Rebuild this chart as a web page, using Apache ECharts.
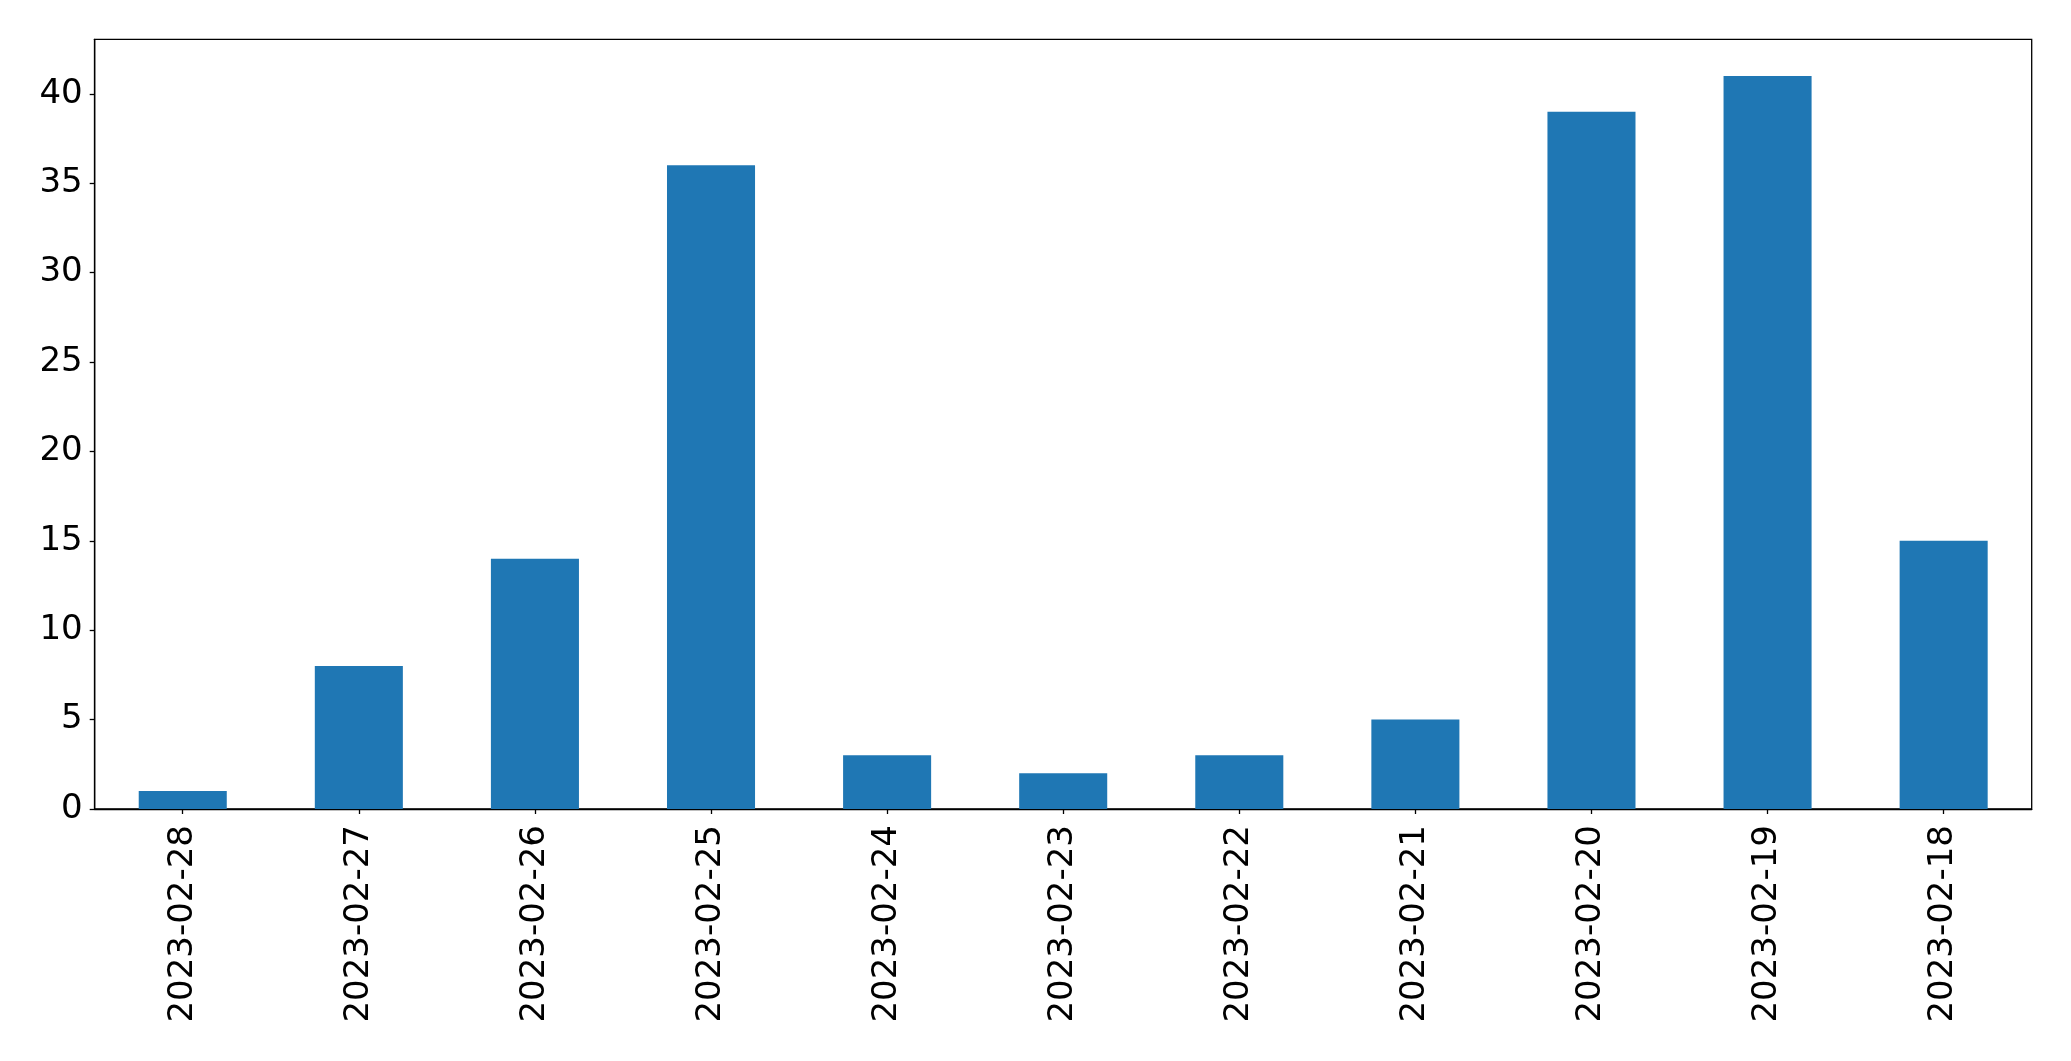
<!DOCTYPE html>
<html>
<head>
<meta charset="utf-8">
<script src="https://cdn.jsdelivr.net/npm/echarts@6/dist/echarts.min.js"></script>
<style>
html,body{margin:0;padding:0;background:#fff;}
#chart{width:2071px;height:1061px;}
</style>
</head>
<body>
<div id="chart"></div>
<script>
const categories = ['2023-02-28','2023-02-27','2023-02-26','2023-02-25','2023-02-24','2023-02-23','2023-02-22','2023-02-21','2023-02-20','2023-02-19','2023-02-18'];
const counts = [1, 8, 14, 36, 3, 2, 3, 5, 39, 41, 15];
const yTicks = [0, 5, 10, 15, 20, 25, 30, 35, 40];

const chart = echarts.init(document.getElementById('chart'), null, {renderer: 'canvas'});
const font = 'DejaVu Sans';
chart.setOption({
  animation: false,
  backgroundColor: '#ffffff',
  grid: {left: 94.7, right: 39.3, top: 39.3, bottom: 252, show: true, borderColor: '#000', borderWidth: 1.3, backgroundColor: 'transparent'},
  xAxis: {
    type: 'category',
    data: categories,
    boundaryGap: true,
    axisLine: {show: true, lineStyle: {color: '#000', width: 1.3}},
    axisTick: {show: true, alignWithLabel: true, length: 5, lineStyle: {color: '#000', width: 1.3}},
    axisLabel: {rotate: 90, margin: 16, fontFamily: font, fontSize: 34, color: '#000', interval: 0},
    splitLine: {show: false}
  },
  yAxis: {
    type: 'value',
    min: 0,
    max: 43.05,
    interval: 5,
    axisLine: {show: true, lineStyle: {color: '#000', width: 1.3}},
    axisTick: {show: true, length: 5, lineStyle: {color: '#000', width: 1.3}, customValues: yTicks},
    axisLabel: {margin: 12, fontFamily: font, fontSize: 34, color: '#000', customValues: yTicks},
    splitLine: {show: false}
  },
  series: [{
    type: 'bar',
    data: counts,
    barWidth: '50%',
    itemStyle: {color: '#1f77b4'}
  }]
});
</script>
</body>
</html>
